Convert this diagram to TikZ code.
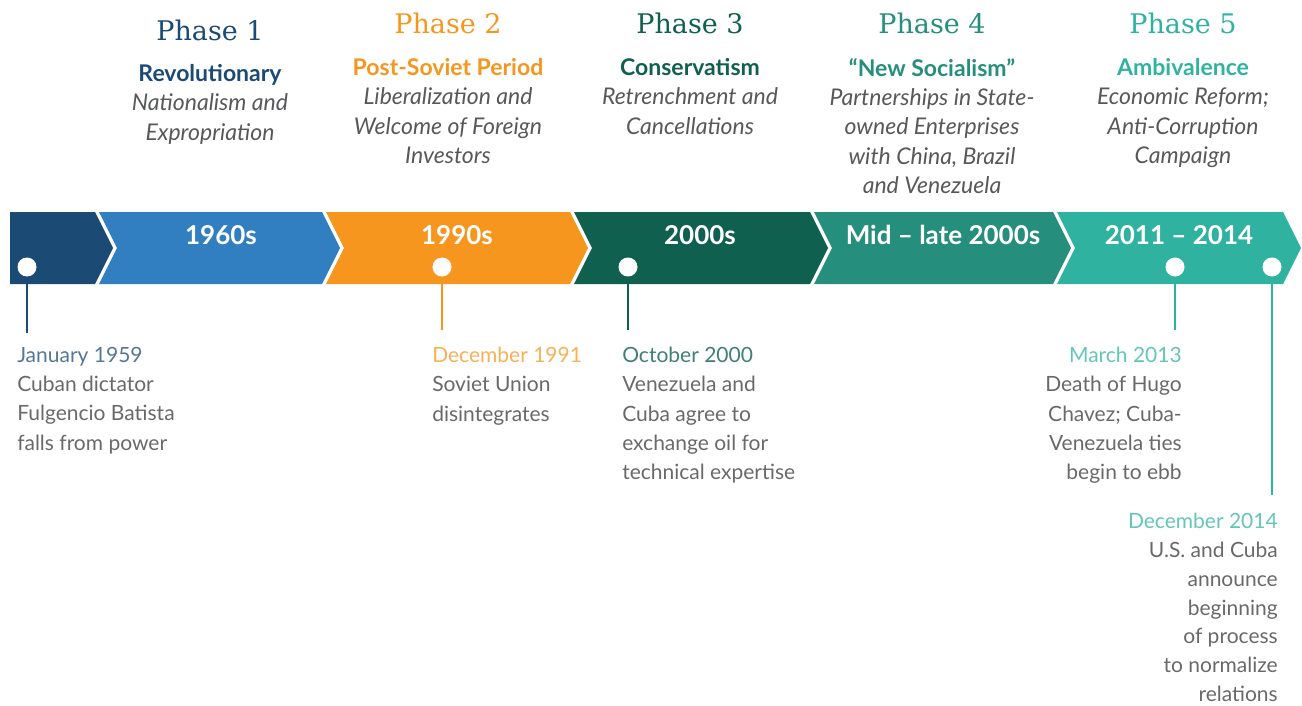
\documentclass[tikz,border=0pt]{standalone}
\usepackage{fontspec}
\setmainfont{Lato}
\newfontfamily\slabfont{DejaVu Serif}
\usepackage{xcolor}
\definecolor{navy}{HTML}{1B4A74}
\definecolor{midBlue}{HTML}{317EC0}
\definecolor{amber}{HTML}{F6961F}
\definecolor{pine}{HTML}{10604F}
\definecolor{sea}{HTML}{268E7C}
\definecolor{aqua}{HTML}{30B2A0}
\definecolor{ink}{HTML}{57585A}
\colorlet{navyDate}{navy!75!white}
\colorlet{amberDate}{amber!75!white}
\colorlet{pineDate}{pine!80!white}
\colorlet{aquaDate}{aqua!75!white}

\begin{document}
\begin{tikzpicture}[
    x=0.75pt, y=-0.75pt,
    hd/.style={anchor=north, inner sep=0, font=\slabfont\fontsize{20.25pt}{24pt}\selectfont},
    sub/.style={anchor=north, inner sep=0, align=center, text=ink,
        font=\itshape\fontsize{17.25pt}{22pt}\selectfont},
    yr/.style={inner sep=0, text=white, font=\bfseries\fontsize{19.5pt}{22pt}\selectfont},
    dot/.style={circle, fill=white, minimum size=14.25pt, inner sep=0},
    evt/.style={inner sep=0, text=ink!90!white, font=\fontsize{15.75pt}{21.9pt}\selectfont},
    tick/.style={line width=1.5pt},
  ]
  \useasboundingbox (0,0) rectangle (1302,706);

  % band of periods
  \fill[navy]    (10,212) -- (95,212) -- (113,248) -- (95,284) -- (10,284) -- cycle;
  \fill[midBlue] (99,212) -- (322,212) -- (340,248) -- (322,284) -- (99,284) -- (117,248) -- cycle;
  \fill[amber]   (326,212) -- (570,212) -- (588,248) -- (570,284) -- (326,284) -- (344,248) -- cycle;
  \fill[pine]    (574,212) -- (810,212) -- (828,248) -- (810,284) -- (574,284) -- (592,248) -- cycle;
  \fill[sea]     (814,212) -- (1053,212) -- (1071,248) -- (1053,284) -- (814,284) -- (832,248) -- cycle;
  \fill[aqua]    (1057,212) -- (1283,212) -- (1301,248) -- (1283,284) -- (1057,284) -- (1075,248) -- cycle;

  \node[yr] (y1) at (221,235) {1960s};
  \node[yr] (y2) at (457,235) {1990s};
  \node[yr] (y3) at (700,235) {2000s};
  \node[yr] (y4) at (943,235) {Mid -- late 2000s};
  \node[yr] (y5) at (1179,235) {2011 -- 2014};

  % phases
  \node[hd, text=navy]  (ph1) at (210,20) {Phase 1};
  \node[hd, text=amber] (ph2) at (448,13) {Phase 2};
  \node[hd, text=pine]  (ph3) at (690,13) {Phase 3};
  \node[hd, text=sea]   (ph4) at (932,13) {Phase 4};
  \node[hd, text=aqua]  (ph5) at (1183,13) {Phase 5};

  \node[sub] (s1) at (210,64) {{\upshape\bfseries\color{navy}Revolutionary}\\Nationalism and\\Expropriation};
  \node[sub] (s2) at (448,58) {{\upshape\bfseries\color{amber}Post-Soviet Period}\\Liberalization and\\Welcome of Foreign\\Investors};
  \node[sub] (s3) at (690,58) {{\upshape\bfseries\color{pine}Conservatism}\\Retrenchment and\\Cancellations};
  \node[sub] (s4) at (932,58) {{\upshape\bfseries\color{sea}“New Socialism”}\\Partnerships in State-\\owned Enterprises\\with China, Brazil\\and Venezuela};
  \node[sub] (s5) at (1183,58) {{\upshape\bfseries\color{aqua}Ambivalence}\\Economic Reform;\\Anti-Corruption\\Campaign};

  % events
  \node[dot] (d1) at (27,267) {};
  \node[dot] (d2) at (442,267) {};
  \node[dot] (d3) at (628,267) {};
  \node[dot] (d4) at (1175,267) {};
  \node[dot] (d5) at (1272,267) {};

  \coordinate (t1) at (27,333);
  \coordinate (t2) at (442,330);
  \coordinate (t3) at (628,330);
  \coordinate (t4) at (1175,330);
  \coordinate (t5) at (1272,495);

  \draw[tick, navy]  (d1.south) -- (t1);
  \draw[tick, amber] (d2.south) -- (t2);
  \draw[tick, pine]  (d3.south) -- (t3);
  \draw[tick, aqua]  (d4.south) -- (t4);
  \draw[tick, aqua]  (d5.south) -- (t5);

  \node[evt, anchor=north west, align=left] (e1) at (17,347)
    {{\color{navyDate}January 1959}\\Cuban dictator\\Fulgencio Batista\\falls from power};
  \node[evt, anchor=north west, align=left] (e2) at (432,347)
    {{\color{amberDate}December 1991}\\Soviet Union\\disintegrates};
  \node[evt, anchor=north west, align=left] (e3) at (622,347)
    {{\color{pineDate}October 2000}\\Venezuela and\\Cuba agree to\\exchange oil for\\technical expertise};
  \node[evt, anchor=north east, align=right] (e4) at (1182,347)
    {{\color{aquaDate}March 2013}\\Death of Hugo\\Chavez; Cuba-\\Venezuela ties\\begin to ebb};
  \node[evt, anchor=north east, align=right, font=\fontsize{15.75pt}{21.6pt}\selectfont] (e5) at (1278,513)
    {{\color{aquaDate}December 2014}\\U.S. and Cuba\\announce\\beginning\\of process\\to normalize\\relations};
\end{tikzpicture}
\end{document}
